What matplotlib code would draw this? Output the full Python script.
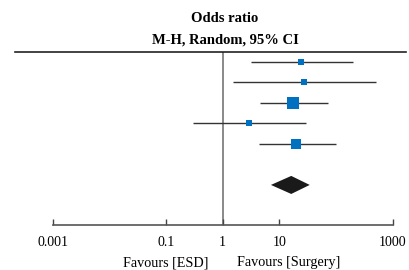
import matplotlib
matplotlib.use('Agg')
import matplotlib.pyplot as plt
import numpy as np

# study estimates (odds ratio) with 95% CI
odds = [24.1, 27.2, 17.6, 2.9, 19.9]
ci_low = [3.1, 1.5, 4.6, 0.30, 4.4]
ci_high = [202, 500, 73, 30, 99]
weights = [12.0, 8.4, 40.5, 12.0, 27.1]

# pooled (random effects) estimate
pooled = 16.2
pooled_low = 7.1
pooled_high = 34.3

ticks = [0.001, 0.1, 1, 10, 1000]
tick_labels = ['0.001', '0.1', '1', '10', '1000']

plt.rcParams['font.family'] = ['Liberation Serif', 'DejaVu Serif']

W, H = 409, 270
fig = plt.figure(figsize=(W / 100, H / 100), dpi=100)
ax = fig.add_axes([52.7 / W, (H - 224.5) / H, 340 / W, (224.5 - 51.7) / H])

line_col = '#333333'
blue = '#0070C0'

rows = np.arange(len(odds))
for y, o, lo, hi, w in zip(rows, odds, ci_low, ci_high, weights):
    ax.plot([lo, hi], [y, y], color=line_col, lw=1.0, solid_capstyle='butt', zorder=2)
    ax.plot(o, y, marker='s', color=blue, markersize=1.25 * np.sqrt(w), mew=0, zorder=3)

# pooled diamond
yd = 6
h = 0.44
ax.fill([pooled_low, pooled, pooled_high, pooled], [yd, yd - h, yd, yd + h],
        color='#1a1a1a', lw=0, zorder=3)

# line of no effect
ax.axvline(1, color='#808080', lw=1.3, zorder=1)

ax.set_xscale('log')
ax.set_xlim(0.001, 1000)
ax.set_ylim(7.93, -0.5)
ax.set_xticks(ticks)
ax.set_xticklabels(tick_labels)
ax.minorticks_off()
ax.tick_params(axis='x', direction='in', length=4, width=1, color='#444444',
               pad=8.5, labelsize=10)
ax.set_yticks([])
for s in ['left', 'right', 'top']:
    ax.spines[s].set_visible(False)
ax.spines['bottom'].set_color('#555555')
ax.spines['bottom'].set_linewidth(1.2)

# top rule that runs past the axis
ax.axhline(-0.5, xmin=-0.111, xmax=1.039, color='#222222', lw=1.2, clip_on=False)

fig.text(225 / W, 1 - 18 / H, 'Odds ratio', ha='center', va='center',
         fontsize=10.5, fontweight='bold')
fig.text(225 / W, 1 - 40 / H, 'M-H, Random, 95% CI', ha='center', va='center',
         fontsize=10.5, fontweight='bold')

ax.annotate('Favours [ESD]', xy=(1, 0), xycoords=('data', 'axes fraction'),
            xytext=(-10.5, -27.5), textcoords='offset points', ha='right', va='center',
            fontsize=10.2)
ax.annotate('Favours [Surgery]', xy=(1, 0), xycoords=('data', 'axes fraction'),
            xytext=(10, -27.5), textcoords='offset points', ha='left', va='center',
            fontsize=10.2)

fig.savefig('out.png', dpi=100)
